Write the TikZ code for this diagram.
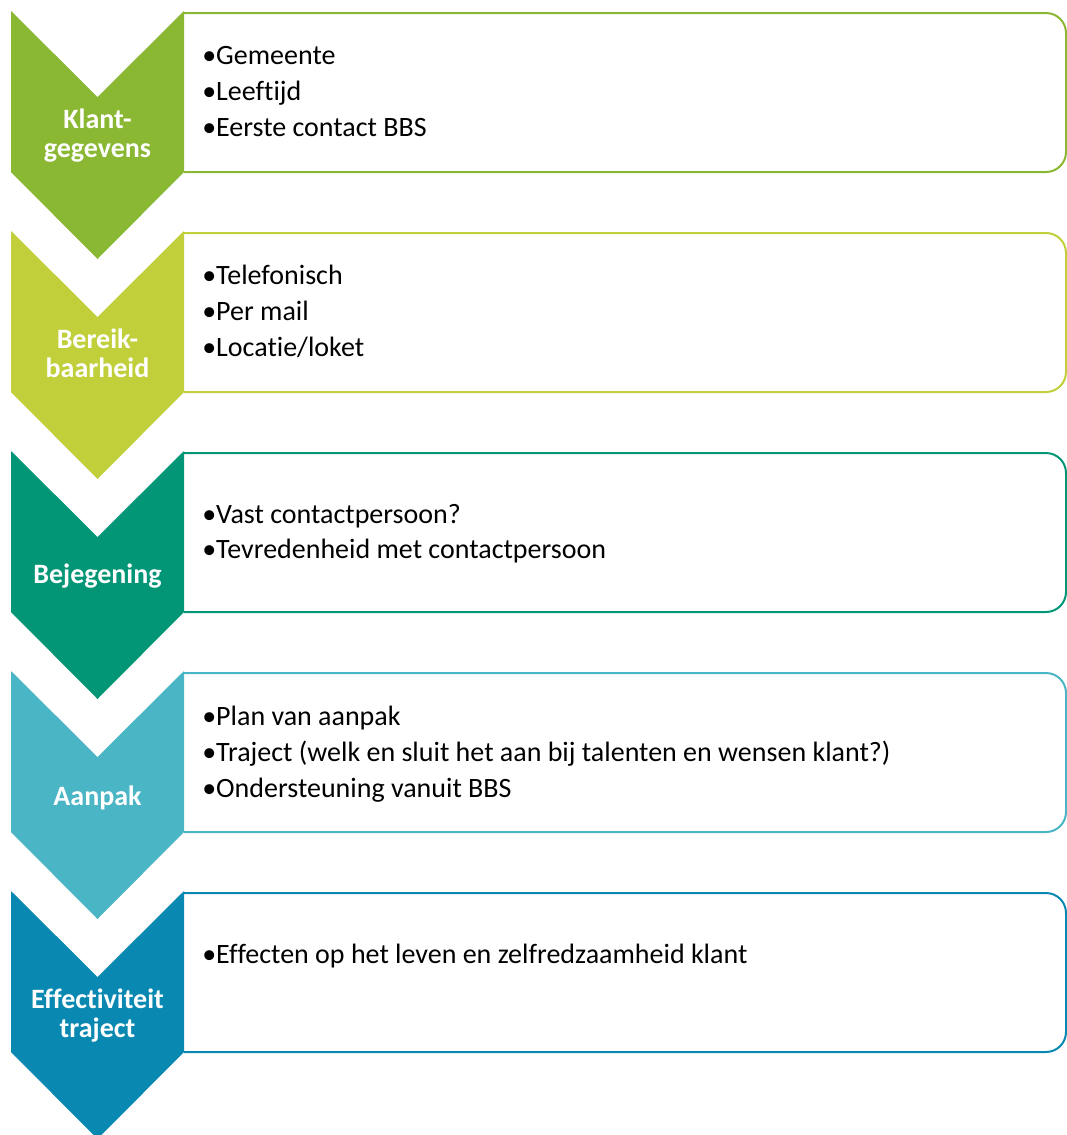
\documentclass[tikz,border=0pt]{standalone}
\usepackage{fontspec}
\setmainfont[Ligatures=NoCommon]{Carlito}
\newcommand{\nolig}{\kern0pt}
\definecolor{klantgroen}{HTML}{8AB833}
\definecolor{bereiklime}{HTML}{C0CF3A}
\definecolor{bejegeningteal}{HTML}{029676}
\definecolor{aanpakblauw}{HTML}{4AB5C4}
\definecolor{trajectblauw}{HTML}{0989B1}
\tikzset{
    chevron/.pic={
        \path[pic actions] (0,0) -- (86.5,86) -- (173,0) -- (173,161)
            -- (86.5,248) -- (0,161) -- cycle;
    },
    fasebox/.style={
        line width=1.5pt,
        rounded corners=15pt,
    },
    fasetekst/.style={
        anchor=base,
        inner sep=0,
        text=white,
        font=\bfseries\fontsize{21}{23}\selectfont,
    },
    punt/.style={
        anchor=base west,
        inner sep=0,
        font=\fontsize{21}{25}\selectfont,
    },
}

\begin{document}
\begin{tikzpicture}[x=0.75pt, y=-0.75pt]
            \useasboundingbox (0,0) rectangle (1067,1135);

            % kaders rechts
            \draw[fasebox, klantgroen]     (184,13)  -| (1066,172)  -- (184,172);
            \draw[fasebox, bereiklime]     (184,233) -| (1066,392)  -- (184,392);
            \draw[fasebox, bejegeningteal] (184,453) -| (1066,612)  -- (184,612);
            \draw[fasebox, aanpakblauw]    (184,673) -| (1066,832)  -- (184,832);
            \draw[fasebox, trajectblauw]   (184,893) -| (1066,1052) -- (184,1052);

            % pijlen links
            \pic[fill=klantgroen]     at (11,11)  {chevron};
            \pic[fill=bereiklime]     at (11,231) {chevron};
            \pic[fill=bejegeningteal] at (11,451) {chevron};
            \pic[fill=aanpakblauw]    at (11,671) {chevron};
            \pic[fill=trajectblauw]   at (11,891) {chevron};

            \node[fasetekst] at (97.5,128)  (klant)     {Klant-};
            \node[fasetekst] at (97.5,157)  (gegevens)  {gegevens};
            \node[fasetekst] at (97.5,348)  (bereik)    {Bereik-};
            \node[fasetekst] at (97.5,377)  (baarheid)  {baarheid};
            \node[fasetekst] at (97.5,583)  (bejegening){Bejegening};
            \node[fasetekst] at (97.5,805)  (aanpak)    {Aanpak};
            \node[fasetekst] at (97.5,1008) (effect)    {Ef\nolig fect\nolig iviteit};
            \node[fasetekst] at (97.5,1037) (traject)   {traject};

            \node[punt] at (202,64)  (gemeente)   {•Gemeente};
            \node[punt] at (202,100) (leeftijd)   {•Leef\nolig t\nolig ijd};
            \node[punt] at (202,136) (contact)    {•Eerste contact BBS};

            \node[punt] at (202,284) (telefoon)   {•Telefonisch};
            \node[punt] at (202,320) (mail)       {•Per mail};
            \node[punt] at (202,356) (loket)      {•Locat\nolig ie/loket};

            \node[punt] at (202,523) (vast)       {•Vast contactpersoon?};
            \node[punt] at (202,558) (tevreden)   {•Tevredenheid met contactpersoon};

            \node[punt] at (202,725) (plan)       {•Plan van aanpak};
            \node[punt] at (202,761) (trajectpt)  {•Traject (welk en sluit het aan bij talenten en wensen klant?)};
            \node[punt] at (202,797) (steun)      {•Ondersteuning vanuit BBS};

            \node[punt] at (202,963) (effecten)   {•Ef\nolig fecten op het leven en zelfredzaamheid klant};
        \end{tikzpicture}
\end{document}
